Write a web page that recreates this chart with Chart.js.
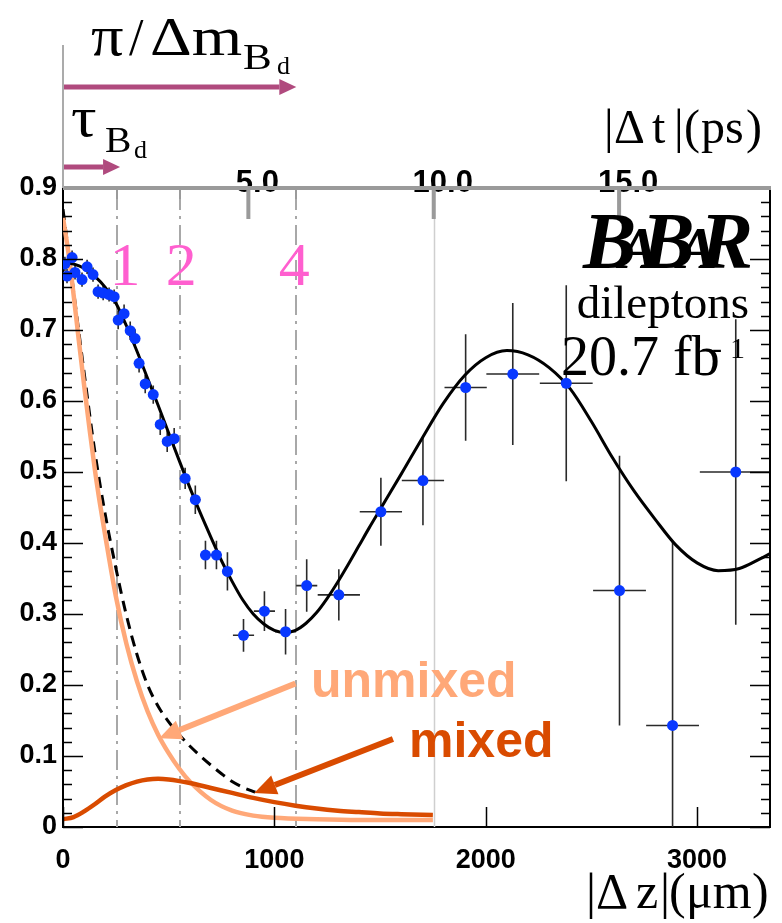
<!DOCTYPE html>
<html>
<head>
<meta charset="utf-8">
<script src="https://cdn.jsdelivr.net/npm/chart.js@4.4.1/dist/chart.umd.min.js"></script>
<style>
  html, body { margin: 0; padding: 0; background: #fff; }
</style>
</head>
<body>
<canvas id="osc" width="782" height="923"></canvas>
<script>
// dilepton data: |dz| (um), mixing fraction, errors
const zData = [9, 19, 43, 57, 90, 114, 142, 166, 190, 218, 242, 261, 289, 318, 341, 360, 389, 427, 460, 493, 526, 578,
               626, 674, 726, 778, 854, 953, 1053, 1153, 1305, 1504, 1703, 1905, 2128, 2381, 2633, 2884, 3183];
const rData = [0.793, 0.776, 0.802, 0.781, 0.771, 0.789, 0.778, 0.754, 0.752, 0.750, 0.747, 0.714, 0.723, 0.699, 0.688, 0.653, 0.624, 0.609, 0.567, 0.543, 0.547, 0.491,
               0.461, 0.383, 0.383, 0.360, 0.270, 0.304, 0.275, 0.340, 0.327, 0.444, 0.488, 0.619, 0.638, 0.625, 0.333, 0.143, 0.500];
const zErr = [12, 12, 12, 12, 12, 12, 12, 12, 12, 12, 12, 12, 12, 12, 12, 12, 12, 12, 12, 12, 12, 12,
              25, 25, 25, 25, 50, 50, 50, 50, 100, 100, 100, 100, 125, 125, 125, 125, 170];
const rErr = [0.01, 0.01, 0.01, 0.01, 0.01, 0.01, 0.01, 0.01, 0.01, 0.01, 0.01, 0.013, 0.013, 0.013, 0.013, 0.013, 0.013, 0.013, 0.015, 0.015, 0.015, 0.015,
              0.02, 0.02, 0.02, 0.027, 0.023, 0.028, 0.032, 0.037, 0.036, 0.048, 0.063, 0.075, 0.1, 0.138, 0.19, 0.26, 0.215];

// fitted oscillation curve
const fitZ = [0, 50, 100, 150, 200, 250, 300, 350, 400, 450, 500, 550, 600, 650, 700, 750, 800, 850, 900, 950, 1000, 1050, 1100, 1150, 1200, 1250,
              1300, 1350, 1400, 1450, 1500, 1600, 1700, 1800, 1900, 2000, 2100, 2200, 2300, 2400, 2500, 2600, 2700, 2800, 2900, 3000, 3100, 3200, 3300, 3345];
const fitR = [0.795, 0.793, 0.787, 0.776, 0.760, 0.738, 0.706, 0.670, 0.632, 0.594, 0.555, 0.516, 0.478, 0.442, 0.408, 0.375, 0.346, 0.320, 0.300, 0.286, 0.277, 0.274, 0.277, 0.287, 0.302, 0.322,
              0.345, 0.370, 0.396, 0.422, 0.447, 0.497, 0.548, 0.597, 0.636, 0.661, 0.671, 0.665, 0.647, 0.617, 0.571, 0.520, 0.474, 0.434, 0.397, 0.372, 0.361, 0.364, 0.378, 0.385];

// unmixed / mixed components and their sum (dashed)
const unmixZ = [0, 25, 50, 75, 100, 125, 150, 175, 200, 250, 300, 350, 400, 450, 500, 550, 600, 700, 800, 900, 1000, 1200, 1400, 1750];
const unmixR = [0.858, 0.81, 0.75, 0.685, 0.622, 0.562, 0.505, 0.455, 0.41, 0.325, 0.258, 0.205, 0.163, 0.13, 0.104, 0.082, 0.064, 0.038, 0.023, 0.016, 0.013, 0.011, 0.010, 0.010];
const mixZ = [0, 50, 100, 150, 200, 250, 300, 350, 400, 450, 500, 600, 700, 800, 900, 1000, 1100, 1200, 1300, 1400, 1500, 1600, 1750];
const mixR = [0.011, 0.014, 0.022, 0.032, 0.043, 0.052, 0.059, 0.064, 0.067, 0.068, 0.067, 0.062, 0.055, 0.048, 0.041, 0.035, 0.030, 0.026, 0.023, 0.021, 0.019, 0.018, 0.017];
const sumZ = [0, 50, 100, 150, 200, 250, 300, 350, 400, 450, 500, 550, 600, 650, 700, 750, 800, 850, 910];
const sumR = [0.87, 0.755, 0.64, 0.53, 0.44, 0.365, 0.298, 0.243, 0.2, 0.17, 0.148, 0.13, 0.114, 0.1, 0.087, 0.075, 0.064, 0.056, 0.049];

const xTicks = [0, 1000, 2000, 3000];
const yTicks = [0, 0.1, 0.2, 0.3, 0.4, 0.5, 0.6, 0.7, 0.8, 0.9];
const psTicks = [5, 10, 15];
const psLabels = ["5.0", "10.0", "15.0"];
const umPerPs = 175.4;
const lifeMarks = [256, 555, 1104];
const lifeLabels = ["1", "2", "4"];

const SERIF = "'Liberation Serif', 'Times New Roman', serif";
const SANS = "'Liberation Sans', Arial, sans-serif";

const pts = (xs, ys) => xs.map((x, i) => ({ x: x, y: ys[i] }));

function arrow(ctx, x1, y1, x2, y2, color, w, hl, hw) {
    const a = Math.atan2(y2 - y1, x2 - x1);
    const bx = x2 - hl * Math.cos(a), by = y2 - hl * Math.sin(a);
    ctx.strokeStyle = color;
    ctx.lineWidth = w;
    ctx.beginPath(); ctx.moveTo(x1, y1); ctx.lineTo(bx, by); ctx.stroke();
    ctx.fillStyle = color;
    ctx.beginPath();
    ctx.moveTo(x2, y2);
    ctx.lineTo(bx + hw * Math.sin(a), by - hw * Math.cos(a));
    ctx.lineTo(bx - hw * Math.sin(a), by + hw * Math.cos(a));
    ctx.closePath(); ctx.fill();
}

// text, optionally stretched horizontally by sx
function txt(ctx, s, x, y, font, color, align, sx) {
    ctx.save();
    ctx.font = font;
    ctx.fillStyle = color;
    ctx.textAlign = align || "left";
    ctx.textBaseline = "alphabetic";
    ctx.translate(x, y);
    ctx.scale(sx || 1, 1);
    ctx.fillText(s, 0, 0);
    ctx.restore();
}

// pieces of a latex-like label at fixed x positions
function pieces(ctx, parts, xs, y, font) {
    parts.forEach((p, i) => txt(ctx, p, xs[i], y, font, "#000"));
}

const decor = {
    id: "decor",
    beforeDatasetsDraw(chart) {
        const { ctx, chartArea: a, scales: { x, y } } = chart;
        ctx.save();
        // lifetime markers
        ctx.strokeStyle = "#a8a8a8";
        ctx.lineWidth = 2;
        ctx.setLineDash([20, 6, 3, 6]);
        lifeMarks.forEach(z => {
            const px = Math.round(x.getPixelForValue(z));
            ctx.beginPath(); ctx.moveTo(px, a.top + 2); ctx.lineTo(px, a.bottom); ctx.stroke();
        });
        ctx.setLineDash([]);
        // 10 ps line
        const p10 = Math.round(x.getPixelForValue(10 * umPerPs)) + 0.5;
        ctx.strokeStyle = "#cfcfcf";
        ctx.lineWidth = 1.5;
        ctx.beginPath(); ctx.moveTo(p10, a.top); ctx.lineTo(p10, a.bottom); ctx.stroke();

        // error bars
        ctx.beginPath(); ctx.rect(a.left, a.top, a.width, a.height); ctx.clip();
        ctx.strokeStyle = "#2a2a2a";
        ctx.lineWidth = 1.6;
        zData.forEach((z, i) => {
            const px = x.getPixelForValue(z), py = y.getPixelForValue(rData[i]);
            ctx.beginPath();
            ctx.moveTo(x.getPixelForValue(z - zErr[i]), py); ctx.lineTo(x.getPixelForValue(z + zErr[i]), py);
            ctx.moveTo(px, y.getPixelForValue(rData[i] - rErr[i])); ctx.lineTo(px, y.getPixelForValue(rData[i] + rErr[i]));
            ctx.stroke();
        });
        ctx.restore();
    },
    afterDatasetsDraw(chart) {
        const { ctx, chartArea: a, scales: { x, y } } = chart;
        ctx.save();
        // y ticks, left and right
        ctx.strokeStyle = "#000";
        ctx.lineWidth = 1.5;
        ctx.beginPath();
        for (let k = 0; k <= 45; k++) {
            const py = Math.round(y.getPixelForValue(k * 0.02)) + 0.5;
            const len = k % 5 === 0 ? 20 : 9;
            ctx.moveTo(a.left, py); ctx.lineTo(a.left + len, py);
            ctx.moveTo(a.right, py); ctx.lineTo(a.right - len, py);
        }
        xTicks.forEach(v => {
            const px = Math.round(x.getPixelForValue(v)) + 0.5;
            ctx.moveTo(px, a.bottom); ctx.lineTo(px, a.bottom - 20);
        });
        ctx.stroke();
        // right frame
        ctx.lineWidth = 2;
        ctx.beginPath(); ctx.moveTo(a.right, a.top); ctx.lineTo(a.right, a.bottom); ctx.stroke();

        // top |dt| axis
        psTicks.forEach((t, i) => {
            txt(ctx, psLabels[i], x.getPixelForValue(t * umPerPs) + 9, a.top + 4, "bold 31px " + SANS, "#000", "center");
        });
        ctx.strokeStyle = "#9a9a9a";
        ctx.lineWidth = 4;
        ctx.beginPath(); ctx.moveTo(a.left, a.top); ctx.lineTo(a.right + 1, a.top); ctx.stroke();
        psTicks.forEach(t => {
            const px = x.getPixelForValue(t * umPerPs);
            ctx.beginPath(); ctx.moveTo(px, a.top); ctx.lineTo(px, a.top + 31); ctx.stroke();
        });
        ctx.lineWidth = 2;
        lifeMarks.forEach(z => {
            const px = Math.round(x.getPixelForValue(z));
            ctx.beginPath(); ctx.moveTo(px, a.top); ctx.lineTo(px, a.top + 11); ctx.stroke();
        });
        ctx.strokeStyle = "#ababab";
        ctx.beginPath(); ctx.moveTo(a.left, 45); ctx.lineTo(a.left, a.top); ctx.stroke();
        pieces(ctx, ["|", "\u0394", "t", "|", "(", "ps", ")"], [604, 614, 652, 674, 684, 701, 746], 143, "48px " + SERIF);

        // pi/dm and tau arrows
        const purple = "#b04a7e";
        arrow(ctx, a.left + 1, 87, x.getPixelForValue(lifeMarks[2]), 87, purple, 5, 17, 8);
        arrow(ctx, a.left + 1, 167, x.getPixelForValue(270), 167, purple, 5, 17, 8);
        txt(ctx, "\u03c0", 91, 55, "56px " + SERIF, "#000", "left", 1.15);
        txt(ctx, "/", 129, 55, "52px " + SERIF, "#000");
        txt(ctx, "\u0394m", 150, 55, "54px " + SERIF, "#000", "left", 1.2);
        txt(ctx, "B", 243, 69, "36px " + SERIF, "#000", "left", 1.2);
        txt(ctx, "d", 277, 74, "26px " + SERIF, "#000");
        txt(ctx, "\u03c4", 71, 136, "58px " + SERIF, "#000", "left", 1.1);
        txt(ctx, "B", 105, 152, "36px " + SERIF, "#000", "left", 1.1);
        txt(ctx, "d", 134, 158, "26px " + SERIF, "#000");

        // 1 2 4 lifetime labels
        const offs = [8, 1, -2];
        lifeMarks.forEach((z, i) => {
            txt(ctx, lifeLabels[i], x.getPixelForValue(z) + offs[i], 285, "62px " + SERIF, "#ff5fcf", "center");
        });

        // BABAR logo
        const letters = ["B", "A", "B", "A", "R"];
        const sizes = [80, 60, 80, 60, 80];
        const ws = letters.map((c, i) => { ctx.font = "italic bold " + sizes[i] + "px " + SERIF; return ctx.measureText(c).width; });
        const tot = ws.reduce((p, c) => p + c, 0);
        const kern = (170 - tot) / 4;
        let lx = 753 - 170;
        letters.forEach((c, i) => {
            txt(ctx, c, lx, 268, "italic bold " + sizes[i] + "px " + SERIF, "#000");
            lx += ws[i] + kern;
        });
        txt(ctx, "dileptons", 749, 318, "47px " + SERIF, "#000", "right");
        txt(ctx, "20.7 fb", 561, 375, "56px " + SERIF, "#000");
        txt(ctx, "-", 712, 358, "30px " + SERIF, "#000");
        txt(ctx, "1", 730, 358, "30px " + SERIF, "#000");

        // unmixed / mixed annotations
        const light = "#ffa878", dark = "#d94b00";
        arrow(ctx, x.getPixelForValue(1100), y.getPixelForValue(0.202), x.getPixelForValue(455), y.getPixelForValue(0.125), light, 6, 22, 10);
        arrow(ctx, x.getPixelForValue(1561), y.getPixelForValue(0.124), x.getPixelForValue(905), y.getPixelForValue(0.048), dark, 6, 22, 10);
        txt(ctx, "unmixed", 311, 697, "bold 50px " + SANS, light);
        txt(ctx, "mixed", 409, 757, "bold 50px " + SANS, dark);

        pieces(ctx, ["|", "\u0394", "z", "|", "(", "\u03bcm", ")"], [586, 596, 636, 660, 669, 686, 752], 908, "50px " + SERIF);
        ctx.restore();
    }
};

const tickFont = { family: SANS, size: 27, weight: "bold" };

new Chart("osc", {
    type: "scatter",
    data: {
        datasets: [{
            data: pts(zData, rData),
            backgroundColor: "#0838ff",
            borderWidth: 0,
            pointRadius: 5.5,
            order: 0
        }, {
            data: pts(fitZ, fitR),
            showLine: true,
            borderColor: "#000",
            borderWidth: 3,
            pointRadius: 0,
            cubicInterpolationMode: "monotone",
            order: 1
        }, {
            data: pts(mixZ, mixR),
            showLine: true,
            borderColor: "#d94b00",
            borderWidth: 4.5,
            pointRadius: 0,
            cubicInterpolationMode: "monotone",
            order: 2
        }, {
            data: pts(unmixZ, unmixR),
            showLine: true,
            borderColor: "#ffa878",
            borderWidth: 4.5,
            pointRadius: 0,
            cubicInterpolationMode: "monotone",
            order: 3
        }, {
            data: pts(sumZ, sumR),
            showLine: true,
            borderColor: "#000",
            borderWidth: 3,
            borderDash: [11, 7],
            pointRadius: 0,
            cubicInterpolationMode: "monotone",
            order: 4
        }]
    },
    options: {
        responsive: false,
        animation: false,
        devicePixelRatio: 1,
        layout: { padding: { top: 188, right: 12, left: 0, bottom: 0 } },
        plugins: { legend: { display: false }, tooltip: { enabled: false } },
        scales: {
            x: {
                type: "linear",
                min: 0,
                max: 3345,
                afterBuildTicks: s => { s.ticks = xTicks.map(v => ({ value: v })); },
                afterFit: s => { s.height = 96; },
                ticks: { callback: v => String(v), font: tickFont, color: "#000", padding: 17, maxRotation: 0, autoSkip: false },
                grid: { display: false, drawTicks: false },
                border: { color: "#000", width: 2 }
            },
            y: {
                type: "linear",
                min: 0,
                max: 0.9,
                afterBuildTicks: s => { s.ticks = yTicks.map(v => ({ value: v })); },
                afterFit: s => { s.width = 63; },
                ticks: { callback: v => v === 0 ? "0" : v.toFixed(1), font: tickFont, color: "#000", padding: 6, autoSkip: false },
                grid: { display: false, drawTicks: false },
                border: { color: "#000", width: 2 }
            }
        }
    },
    plugins: [decor]
});
</script>
</body>
</html>
